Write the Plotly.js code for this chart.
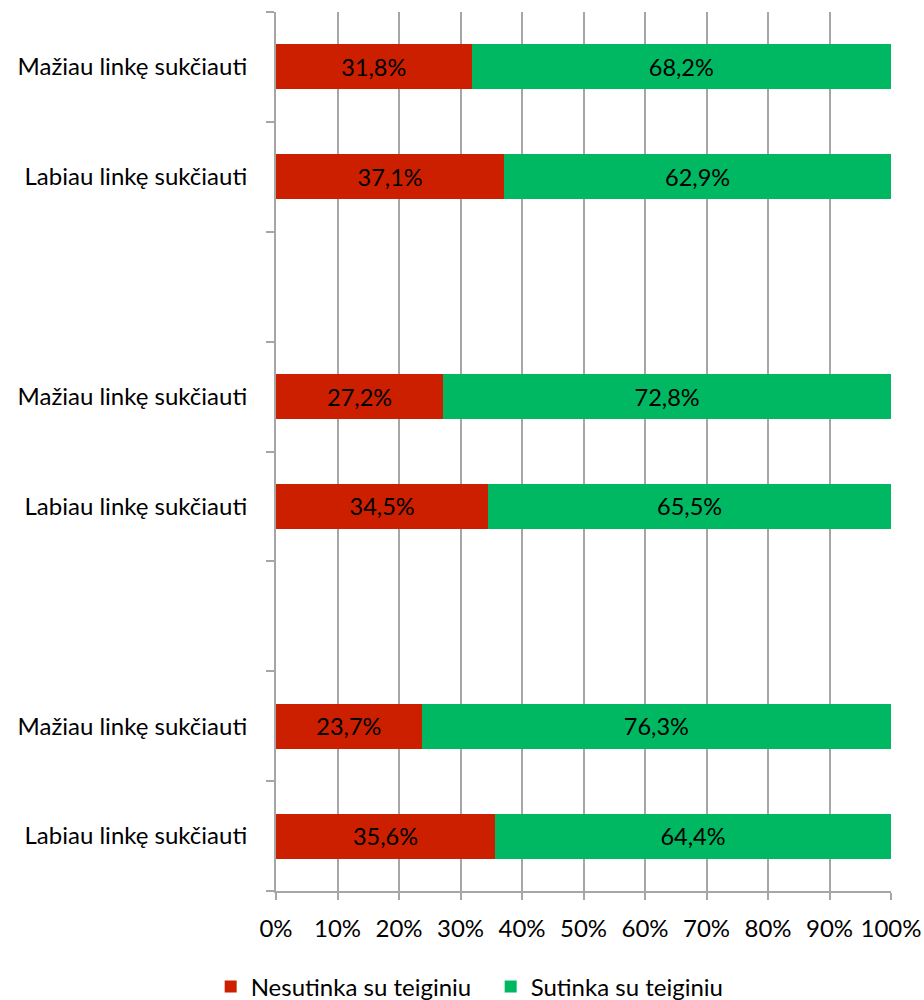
<!DOCTYPE html>
<html><head><meta charset="utf-8">
<script src="https://cdn.plot.ly/plotly-3.0.1.min.js"></script>
<style>body{margin:0;background:#fff}#c{width:924px;height:1000px}</style>
</head><body><div id="c"></div>
<script>
// categories from bottom to top ("" = empty spacer slots)
const categories = ["Labiau linkę sukčiauti","Mažiau linkę sukčiauti","","Labiau linkę sukčiauti","Mažiau linkę sukčiauti","","Labiau linkę sukčiauti","Mažiau linkę sukčiauti"];
const nesutinka = [35.6, 23.7, null, 34.5, 27.2, null, 37.1, 31.8];
const sutinka   = [64.4, 76.3, null, 65.5, 72.8, null, 62.9, 68.2];
const seriesNames = ["Nesutinka su teiginiu","Sutinka su teiginiu"];
const xTicks = [0,10,20,30,40,50,60,70,80,90,100];

const FONT = "Lato, 'Open Sans', sans-serif";
const pos = categories.map((c,i)=>i+0.5);
const fmt = v => v==null ? "" : v.toFixed(1).replace('.',',')+'%';

const mk = (vals,name,color)=>({
  type:'bar', orientation:'h', x:vals, y:pos, name:name,
  width:0.41, marker:{color:color},
  text:vals.map(fmt), textposition:'inside', insidetextanchor:'middle',
  textfont:{family:FONT,size:23.5,color:'#000'}, hoverinfo:'skip'
});

const data=[mk(nesutinka,seriesNames[0],'#CC1F00'), mk(sutinka,seriesNames[1],'#00B862')];

const layout={
  width:924,height:1000,barmode:'stack',
  margin:{l:276,r:33,t:12,b:109,autoexpand:false},
  paper_bgcolor:'#fff',plot_bgcolor:'#fff',
  font:{family:FONT,size:24,color:'#000'},
  showlegend:true,
  legend:{orientation:'h',traceorder:'normal',xref:'container',yref:'container',
    x:0.228,xanchor:'left',y:0.013,yanchor:'middle',
    font:{family:FONT,size:24,color:'#000'},itemwidth:30,entrywidth:235},
  xaxis:{range:[0,100],tickvals:xTicks,ticktext:xTicks.map(v=>v+'%'),
    showgrid:true,gridcolor:'#A6A6A6',gridwidth:2,
    showline:true,linecolor:'#A6A6A6',linewidth:2,
    ticks:'outside',ticklen:7,tickcolor:'#A6A6A6',tickwidth:2,
    ticklabelstandoff:8,zeroline:false,fixedrange:true},
  yaxis:{range:[0,8],tickvals:pos.filter((p,i)=>categories[i]!==""),
    ticktext:categories.filter(c=>c!==""),
    ticks:'',showgrid:false,zeroline:false,
    showline:true,linecolor:'#A6A6A6',linewidth:2,
    ticklabelstandoff:22,
    minor:{tick0:0,dtick:1,ticks:'outside',ticklen:8,tickcolor:'#A6A6A6',tickwidth:2,showgrid:false},
    fixedrange:true}
};
Plotly.newPlot('c',data,layout,{displayModeBar:false,staticPlot:true});
</script></body></html>
